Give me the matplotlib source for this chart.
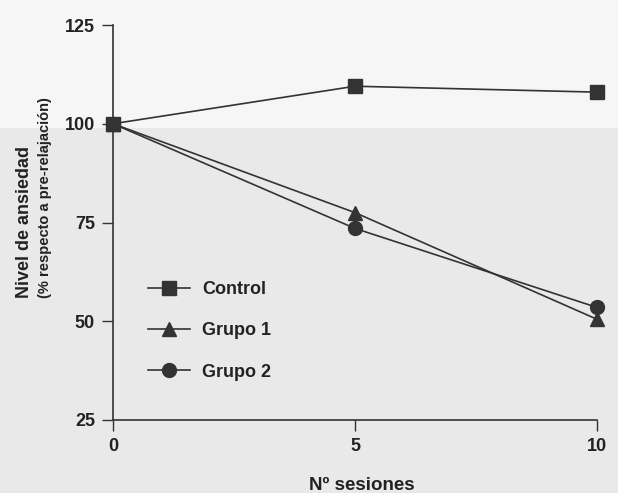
import matplotlib
matplotlib.use("Agg")
import matplotlib.pyplot as plt
from matplotlib.patches import Rectangle

plt.rcParams['font.family'] = ['Liberation Sans', 'DejaVu Sans']
plt.rcParams['font.weight'] = 'bold'

sessions = [0, 5, 10]
control = [100, 109.5, 108]
grupo1 = [100, 77.5, 50.5]
grupo2 = [100, 73.5, 53.5]
series_labels = ["Control", "Grupo 1", "Grupo 2"]
x_ticks = [0, 5, 10]
y_ticks = [25, 50, 75, 100, 125]
x_label = "Nº sesiones"
y_label_1 = "Nivel de ansiedad"
y_label_2 = "(% respecto a pre-relajación)"

W, H = 618, 493
fig = plt.figure(figsize=(W / 100, H / 100), dpi=100)
fig.patch.set_facecolor('#e9e9e9')
fig.patches.append(Rectangle((0, 1 - 128 / H), 1, 128 / H, transform=fig.transFigure,
                             facecolor='#f6f6f6', edgecolor='none', zorder=-10))

ax = fig.add_axes([113 / W, 1 - 420 / H, (597 - 113) / W, (420 - 25) / H])
ax.set_facecolor('none')

ink = '#333333'
ax.plot(sessions, control, color=ink, lw=1.2, marker='s', ms=10, label=series_labels[0], clip_on=False, zorder=3)
ax.plot(sessions, grupo1, color=ink, lw=1.2, marker='^', ms=10, label=series_labels[1], clip_on=False, zorder=3)
ax.plot(sessions, grupo2, color=ink, lw=1.2, marker='o', ms=10, label=series_labels[2], clip_on=False, zorder=3)

ax.set_xlim(0, 10)
ax.set_ylim(25, 125)
ax.set_xticks(x_ticks)
ax.set_yticks(y_ticks)
for s in ['top', 'right']:
    ax.spines[s].set_visible(False)
for s in ['left', 'bottom']:
    ax.spines[s].set_linewidth(1.2)
    ax.spines[s].set_color(ink)
ax.tick_params(axis='both', direction='out', length=8, width=1, color=ink,
               labelsize=13, labelcolor='#222222', pad=5)

fig.text(362 / W, 1 - 485 / H, x_label, ha='center', va='center', fontsize=13.5,
         fontweight='bold', color='#222222')
fig.text(25 / W, 1 - 298 / H, y_label_1, rotation=90, ha='center', va='bottom',
         fontsize=13, fontweight='bold', color='#222222')
fig.text(45 / W, 1 - 298 / H, y_label_2, rotation=90, ha='center', va='bottom',
         fontsize=10.5, fontweight='bold', color='#222222')

leg = ax.legend(loc='upper left', bbox_to_anchor=(148 / W, 1 - 281 / H),
                bbox_transform=fig.transFigure, frameon=False, fontsize=13,
                handlelength=2.3, handletextpad=0.7, labelspacing=1.35,
                borderpad=0, borderaxespad=0)
for t in leg.get_texts():
    t.set_color('#222222')

fig.savefig('out.png', dpi=100, facecolor=fig.get_facecolor())
